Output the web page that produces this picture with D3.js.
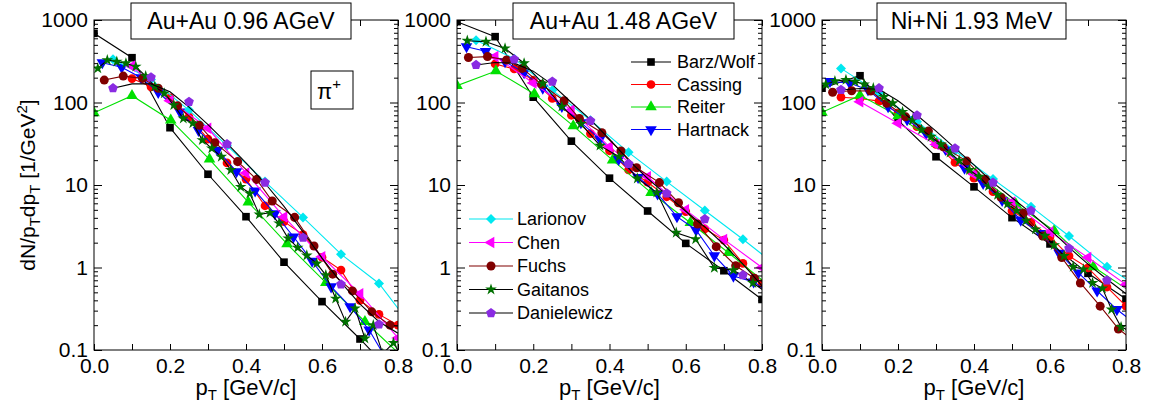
<!DOCTYPE html>
<html>
<head>
<meta charset="utf-8">
<script src="https://cdn.jsdelivr.net/npm/d3@7"></script>
<style>
  body { margin: 0; background: #fff; }
  svg { display: block; }
  text { font-family: "Liberation Sans", Arial, Helvetica, sans-serif; fill: #000; }
</style>
</head>
<body>
<svg id="chart" width="1149" height="407"></svg>
<script>
// ---- data: transverse-momentum spectra of pi+, dN/(pT dpT) in 1/GeV^2 vs pT in GeV/c ----
const panelTitles = ["Au+Au 0.96 AGeV", "Au+Au 1.48 AGeV", "Ni+Ni 1.93 MeV"];
const modelNames = ["Barz/Wolf", "Cassing", "Reiter", "Hartnack", "Larionov",
                    "Chen", "Fuchs", "Gaitanos", "Danielewicz"];
const xTicks = [0, 0.1, 0.2, 0.3, 0.4, 0.5, 0.6, 0.7, 0.8];
const yTicks = [0.1, 1, 10, 100, 1000];
const yTickLabels = ["0.1", "1", "10", "100", "1000"];

// each model: one [pT, dN/pTdpT] list per panel
const barzWolf = [
  [[0,690],[0.1,349],[0.2,49.5],[0.3,13.5],[0.4,4.13],[0.5,1.16],[0.6,0.386],[0.7,0.136],[0.8,0.045]],
  [[0,955],[0.1,628],[0.2,116],[0.3,34],[0.4,12.1],[0.5,4.84],[0.6,1.96],[0.7,0.914],[0.8,0.41]],
  [[0,149],[0.1,211],[0.2,61],[0.3,22],[0.4,9.5],[0.5,4.02],[0.6,1.93],[0.7,0.85],[0.8,0.415]]
];
const cassing = [
  [[0.1,195],[0.15,155],[0.2,114],[0.25,67],[0.3,36],[0.35,18.5],[0.4,11.8],[0.45,5.6],[0.5,3.6],[0.55,2.5],[0.6,1.33],[0.65,0.93],[0.7,0.40],[0.75,0.27],[0.8,0.2]],
  [[0.1,293],[0.15,255],[0.2,187],[0.25,112],[0.3,70],[0.35,42],[0.4,26],[0.45,15.2],[0.5,10.8],[0.55,7.2],[0.6,4.75],[0.65,2.93],[0.7,2.15],[0.75,1.12],[0.8,0.64]],
  [[0.05,116],[0.1,112],[0.15,104],[0.2,75],[0.25,51],[0.3,31],[0.35,18.8],[0.4,12.1],[0.45,8.3],[0.5,4.84],[0.55,3.52],[0.6,2.36],[0.65,1.38],[0.7,0.99],[0.75,0.58],[0.8,0.34]]
];
const reiter = [
  [[0,75],[0.1,121],[0.202,61],[0.304,20.5],[0.406,6.2],[0.508,1.93],[0.61,0.655],[0.713,0.22],[0.815,0.08]],
  [[0,160],[0.102,241],[0.203,127],[0.305,52],[0.408,20],[0.509,8.1],[0.612,3.49],[0.712,1.51],[0.815,0.62]],
  [[0,76],[0.1,122],[0.2,69],[0.302,32],[0.404,13.8],[0.51,5.9],[0.611,2.79],[0.714,1.02],[0.815,0.5]]
];
const hartnack = [
  [[0.022,304],[0.073,267],[0.124,200],[0.169,133],[0.226,77],[0.275,46],[0.325,26.5],[0.375,14.5],[0.424,8.5],[0.476,4.5],[0.525,2.36],[0.574,1.2],[0.624,0.585],[0.674,0.335],[0.724,0.175],[0.775,0.07]],
  [[0.025,475],[0.075,417],[0.126,313],[0.176,230],[0.225,150],[0.275,90],[0.325,57],[0.375,36],[0.424,20.5],[0.475,12.4],[0.526,7.8],[0.577,4.13],[0.627,2.85],[0.675,1.39],[0.725,0.79],[0.778,0.67],[0.83,0.45]],
  [[0.021,180],[0.073,172],[0.121,142],[0.174,89],[0.224,62],[0.274,42],[0.325,27],[0.375,16],[0.424,10.5],[0.474,6.5],[0.523,3.77],[0.574,2.6],[0.624,1.49],[0.675,0.86],[0.724,0.52],[0.776,0.31],[0.83,0.2]]
];
const larionov = [
  [[0.05,334],[0.15,190],[0.25,81],[0.35,30],[0.45,11],[0.55,4.05],[0.65,1.45],[0.75,0.64],[0.85,0.16]],
  [[0.05,567],[0.15,340],[0.25,141],[0.35,61],[0.45,24.9],[0.55,11],[0.65,4.9],[0.75,2.2],[0.85,0.95]],
  [[0.05,259],[0.15,130],[0.25,58.5],[0.35,26],[0.45,11.8],[0.55,5.46],[0.65,2.41],[0.75,1.02],[0.85,0.52]]
];
const chen = [
  [[0.1,276],[0.2,105],[0.3,48.7],[0.4,14],[0.5,4.1],[0.6,1.35],[0.7,0.48],[0.8,0.14]],
  [[0.1,360],[0.2,172],[0.3,81],[0.4,29],[0.5,12.6],[0.6,5],[0.7,2.19],[0.8,1.0]],
  [[0.1,102],[0.2,56],[0.3,31],[0.4,13.5],[0.5,6.2],[0.6,2.7],[0.7,1.32],[0.8,0.62]]
];
const fuchs = [
  [[0.027,187],[0.077,209],[0.128,196],[0.169,149],[0.22,91],[0.277,53],[0.318,32.6],[0.378,19.2],[0.428,11.7],[0.469,6.4],[0.528,4.05],[0.579,1.82],[0.628,0.83],[0.68,0.52],[0.731,0.29],[0.779,0.2],[0.83,0.18]],
  [[0.03,351],[0.08,360],[0.13,327],[0.171,259],[0.222,166],[0.281,105],[0.321,64],[0.38,43],[0.43,25.8],[0.471,16.2],[0.531,10.7],[0.581,6.1],[0.631,3.37],[0.68,1.79],[0.731,1.05],[0.78,0.74],[0.83,0.6]],
  [[0.028,133],[0.078,139],[0.128,138],[0.17,98],[0.22,67],[0.28,45],[0.319,29],[0.381,19.5],[0.43,11.7],[0.471,7.1],[0.53,4.54],[0.581,2.41],[0.631,1.32],[0.68,0.65],[0.732,0.34],[0.78,0.18],[0.83,0.12]]
];
const gaitanos = [
  [[0.01,259],[0.035,327],[0.06,313],[0.084,299],[0.11,272],[0.136,209],[0.16,156],[0.185,129],[0.21,93],[0.235,64],[0.26,56],[0.285,35],[0.31,27.8],[0.335,22],[0.36,15.2],[0.386,9.5],[0.41,7.9],[0.435,4.4],[0.463,4.6],[0.487,3.43],[0.511,2.26],[0.536,1.74],[0.56,1.4],[0.586,1.12],[0.61,0.81],[0.636,0.42],[0.662,0.22],[0.687,0.32],[0.713,0.138],[0.735,0.2],[0.76,0.09],[0.788,0.122],[0.812,0.08]],
  [[0.027,561],[0.076,546],[0.126,453],[0.176,299],[0.225,170],[0.275,89],[0.325,55],[0.375,30],[0.425,22],[0.473,12],[0.524,8.1],[0.575,2.64],[0.626,2.2],[0.675,0.99],[0.725,0.93],[0.776,0.65],[0.826,0.45]],
  [[0.01,166],[0.034,182],[0.063,188],[0.087,179],[0.111,166],[0.135,149],[0.163,117],[0.186,98],[0.212,77],[0.238,61],[0.262,47],[0.287,38.5],[0.313,31],[0.337,24.7],[0.361,19.7],[0.388,15.2],[0.413,12.6],[0.438,9.7],[0.462,7.6],[0.488,5.9],[0.512,4.9],[0.537,3.7],[0.562,2.9],[0.587,2.43],[0.611,1.87],[0.637,1.38],[0.661,1.02],[0.688,0.95],[0.712,0.65],[0.738,0.56],[0.762,0.31],[0.787,0.19],[0.812,0.17]]
];
const danielewicz = [
  [[0.05,149],[0.15,202],[0.25,102],[0.35,31.4],[0.45,10.7],[0.55,2.3],[0.65,0.625],[0.75,0.205]],
  [[0.05,285],[0.15,334],[0.25,179],[0.35,60],[0.45,18],[0.55,7.9],[0.65,3.87],[0.75,0.81]],
  [[0.05,142],[0.15,149],[0.25,70],[0.35,27.8],[0.45,10.7],[0.55,4.9],[0.65,1.71],[0.75,0.7]]
];
// smooth curve that accompanies the Danielewicz points
const danielewiczCurve = [
  [[0.05,149],[0.1,168],[0.15,168],[0.2,135],[0.25,88],[0.3,54],[0.35,32],[0.4,18.5],[0.45,10.5],[0.5,5.5],[0.55,2.7],[0.6,1.3],[0.65,0.66],[0.7,0.36],[0.75,0.22],[0.8,0.16]],
  [[0.05,285],[0.1,305],[0.15,300],[0.2,240],[0.25,165],[0.3,100],[0.35,62],[0.4,36],[0.45,20],[0.5,12],[0.55,7.6],[0.6,4.8],[0.65,3.1],[0.7,1.9],[0.75,1.1],[0.8,0.6]],
  [[0.05,142],[0.1,148],[0.15,145],[0.2,105],[0.25,70],[0.3,45],[0.35,28],[0.4,17.5],[0.45,10.7],[0.5,7],[0.55,4.6],[0.6,2.9],[0.65,1.75],[0.7,1.1],[0.75,0.72],[0.8,0.48]]
];

// ---- styling per model ----
const pentagon = {
  draw(ctx, size) {
    const r = Math.sqrt(size / 2.378);
    for (let i = 0; i < 5; i++) {
      const a = -Math.PI / 2 + i * 2 * Math.PI / 5;
      const px = r * Math.cos(a), py = r * Math.sin(a);
      if (i === 0) ctx.moveTo(px, py); else ctx.lineTo(px, py);
    }
    ctx.closePath();
  }
};
const models = [
  { data: barzWolf,    line: "#000",    fill: "#000",    type: d3.symbolSquare,   size: 58, rot: 0 },
  { data: cassing,     line: "#ff0000", fill: "#ff0000", type: d3.symbolCircle,   size: 60, rot: 0 },
  { data: reiter,      line: "#00e000", fill: "#00e000", type: d3.symbolTriangle, size: 58, rot: 0 },
  { data: hartnack,    line: "#0000ff", fill: "#0000ff", type: d3.symbolTriangle, size: 58, rot: 180 },
  { data: larionov,    line: "#00e8f0", fill: "#00e8f0", type: d3.symbolSquare,   size: 50, rot: 45 },
  { data: chen,        line: "#ff00ff", fill: "#ff00ff", type: d3.symbolTriangle, size: 58, rot: -90 },
  { data: fuchs,       line: "#800000", fill: "#800000", type: d3.symbolCircle,   size: 64, rot: 0 },
  { data: gaitanos,    line: "#000",    fill: "#007000", type: d3.symbolStar,     size: 42, rot: 0 },
  { data: danielewicz, line: null,      fill: "#8a2be2", type: pentagon,          size: 62, rot: 0 }
];

// ---- layout ----
const svg = d3.select("#chart");
const plotsX = [[94, 398], [457, 762], [822, 1126]];
const plotTop = 20, plotBottom = 350;
const titleBoxes = [[131, 351], [513, 734], [877, 1066]];

const y = d3.scaleLog().domain([0.1, 1000]).range([plotBottom, plotTop]);
const minorTicks = [];
for (let e = -1; e < 3; e++) for (let m = 2; m <= 9; m++) minorTicks.push(m * Math.pow(10, e));

const defs = svg.append("defs");

panelTitles.forEach((title, p) => {
  const [x0, x1] = plotsX[p];
  const x = d3.scaleLinear().domain([0, 0.8]).range([x0, x1]);
  const g = svg.append("g");

  defs.append("clipPath").attr("id", "clip" + p)
    .append("rect").attr("x", x0).attr("y", plotTop).attr("width", x1 - x0).attr("height", plotBottom - plotTop);

  const plot = g.append("g").attr("clip-path", `url(#clip${p})`);
  const line = d3.line().x(d => x(d[0])).y(d => y(d[1]));

  models.forEach((m) => {
    const series = m.data[p];
    const path = m.line ? series : danielewiczCurve[p];
    plot.append("path").attr("d", line(path))
      .attr("fill", "none").attr("stroke", m.line || "#000").attr("stroke-width", 1.1);
    const sym = d3.symbol().type(m.type).size(m.size);
    plot.selectAll(null).data(series).join("path")
      .attr("d", sym)
      .attr("transform", d => `translate(${x(d[0])},${y(d[1])}) rotate(${m.rot})`)
      .attr("fill", m.fill);
  });

  // axes: ticks point inward on all four sides
  const axG = g.append("g");
  axG.append("g").attr("transform", `translate(${x0},0)`)
    .call(d3.axisLeft(y).tickValues(yTicks).tickSize(-8).tickSizeOuter(0).tickPadding(6)
      .tickFormat((d, i) => yTickLabels[i]));
  axG.append("g").attr("transform", `translate(${x0},0)`)
    .call(d3.axisLeft(y).tickValues(minorTicks).tickSize(-4).tickSizeOuter(0).tickFormat(""));
  axG.append("g").attr("transform", `translate(${x1},0)`)
    .call(d3.axisRight(y).tickValues(yTicks).tickSize(-8).tickSizeOuter(0).tickFormat(""));
  axG.append("g").attr("transform", `translate(${x1},0)`)
    .call(d3.axisRight(y).tickValues(minorTicks).tickSize(-4).tickSizeOuter(0).tickFormat(""));
  axG.append("g").attr("transform", `translate(0,${plotBottom})`)
    .call(d3.axisBottom(x).tickValues(xTicks).tickSize(-6).tickSizeOuter(0).tickPadding(8)
      .tickFormat((d, i) => i % 2 === 0 ? d3.format(".1f")(d) : ""));
  axG.append("g").attr("transform", `translate(0,${plotTop})`)
    .call(d3.axisTop(x).tickValues(xTicks).tickSize(-6).tickSizeOuter(0).tickFormat(""));
  axG.selectAll(".domain").remove();
  axG.selectAll("line").attr("stroke", "#000");
  axG.selectAll("text")
    .attr("font-family", "Liberation Sans, Arial, sans-serif")
    .attr("font-size", 21).attr("fill", "#000");

  g.append("rect").attr("x", x0).attr("y", plotTop).attr("width", x1 - x0).attr("height", plotBottom - plotTop)
    .attr("fill", "none").attr("stroke", "#000").attr("stroke-width", 1);

  // x-axis title
  const xt = g.append("text").attr("x", (x0 + x1) / 2).attr("y", 395)
    .attr("text-anchor", "middle").attr("font-size", 22);
  xt.append("tspan").text("p");
  xt.append("tspan").attr("font-size", 15).attr("dy", 5).text("T");
  xt.append("tspan").attr("dy", -5).text(" [GeV/c]");

  // panel title box
  const [bx0, bx1] = titleBoxes[p];
  g.append("rect").attr("x", bx0).attr("y", 3).attr("width", bx1 - bx0).attr("height", 36)
    .attr("fill", "#fff").attr("stroke", "#000").attr("stroke-width", 1);
  g.append("text").attr("x", (bx0 + bx1) / 2).attr("y", 29).attr("text-anchor", "middle")
    .attr("font-size", 23).text(title);
});

// y-axis title
const yt = svg.append("text").attr("transform", "translate(35,185) rotate(-90)")
  .attr("text-anchor", "middle").attr("font-size", 21);
yt.append("tspan").text("dN/p");
yt.append("tspan").attr("font-size", 15).attr("dy", 5).text("T");
yt.append("tspan").attr("dy", -5).text("dp");
yt.append("tspan").attr("font-size", 15).attr("dy", 5).text("T");
yt.append("tspan").attr("dy", -5).text(" [1/GeV");
yt.append("tspan").attr("font-size", 15).attr("dy", -8).text("2");
yt.append("tspan").attr("dy", 8).text("]");

// particle label
svg.append("rect").attr("x", 311).attr("y", 71).attr("width", 42).attr("height", 38)
  .attr("fill", "#fff").attr("stroke", "#000").attr("stroke-width", 1);
const pl = svg.append("text").attr("x", 329).attr("y", 99).attr("text-anchor", "middle").attr("font-size", 22);
pl.append("tspan").text("π");
pl.append("tspan").attr("font-size", 15).attr("dy", -10).text("+");

// legends in the middle panel
function legend(indices, lx0, lx1, mx, tx, ys) {
  indices.forEach((mi, k) => {
    const m = models[mi];
    const yy = ys[k];
    svg.append("line").attr("x1", lx0).attr("x2", lx1).attr("y1", yy).attr("y2", yy)
      .attr("stroke", m.line || "#000").attr("stroke-width", 1.1);
    svg.append("path").attr("d", d3.symbol().type(m.type).size(m.size)())
      .attr("transform", `translate(${mx},${yy}) rotate(${m.rot})`).attr("fill", m.fill);
    svg.append("text").attr("x", tx).attr("y", yy).attr("dy", "0.36em")
      .attr("font-size", 18).text(modelNames[mi]);
  });
}
legend([0, 1, 2, 3], 631, 671, 651, 677, [62, 84.5, 107, 129.5]);
legend([4, 5, 6, 7, 8], 469, 513, 491, 517, [219, 242.5, 266, 289.5, 313]);
</script>
</body>
</html>
